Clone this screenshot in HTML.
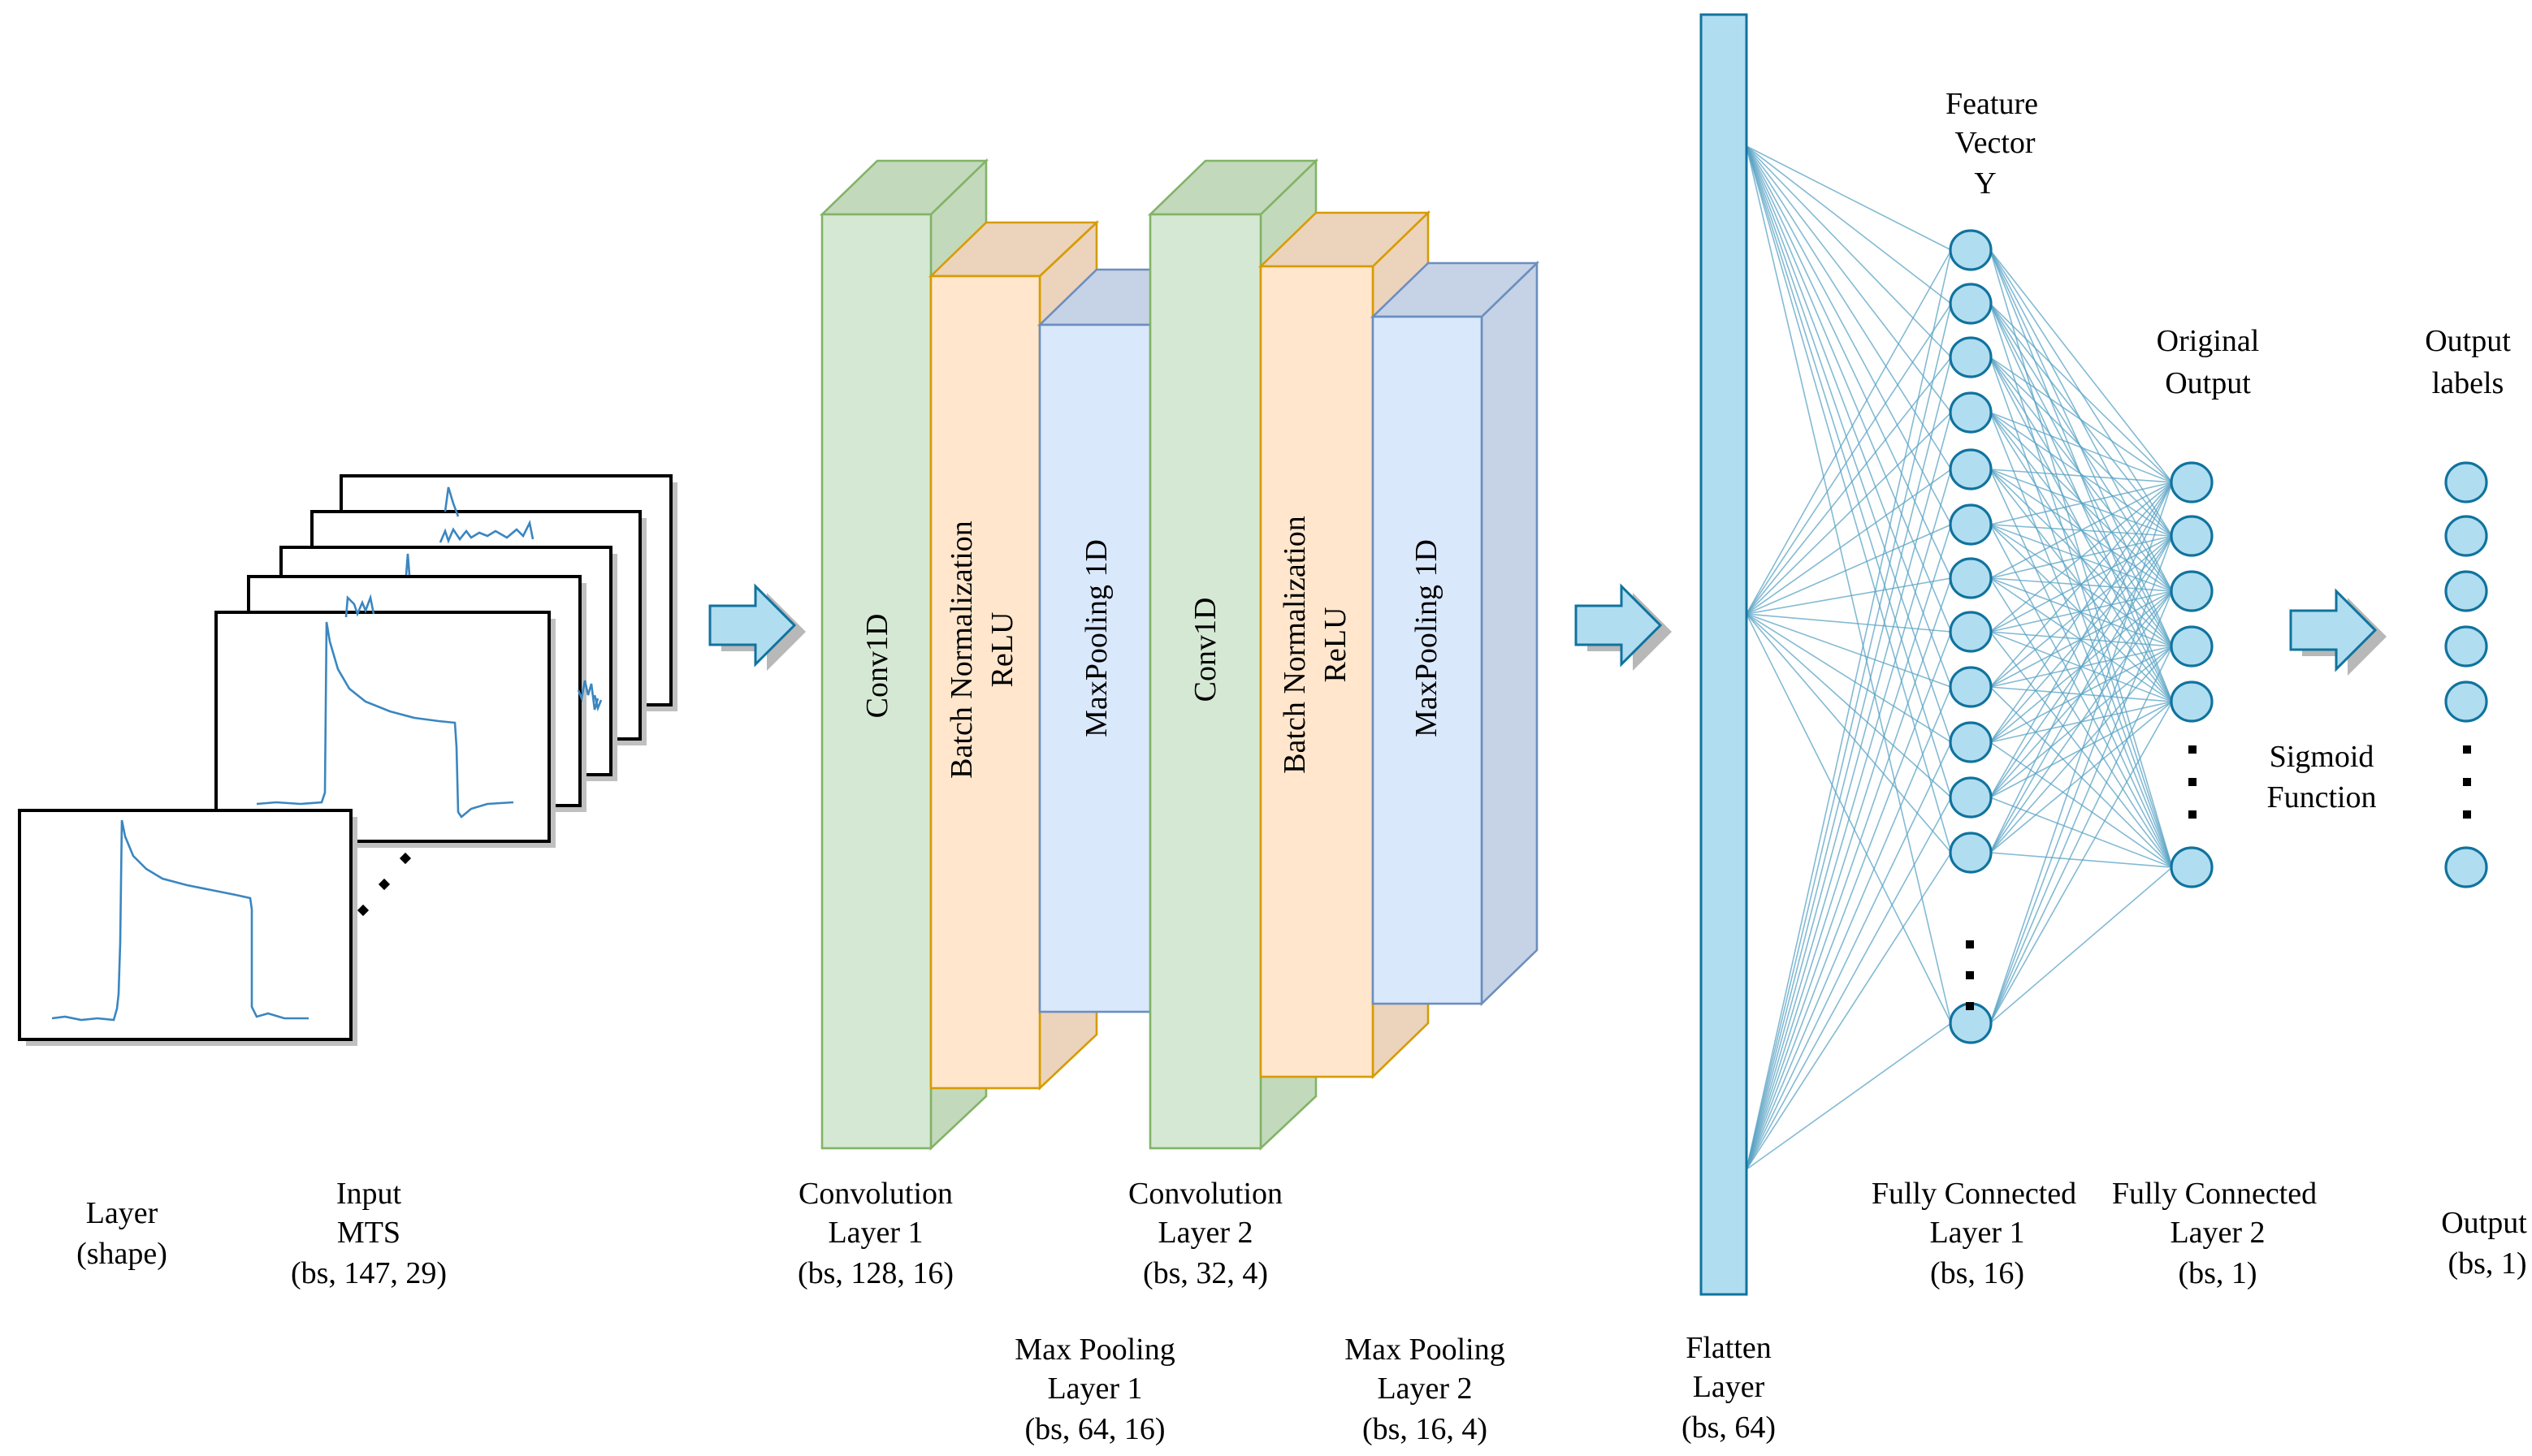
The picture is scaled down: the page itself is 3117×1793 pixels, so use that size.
<!DOCTYPE html>
<html><head><meta charset="utf-8">
<style>
html,body{margin:0;padding:0;background:#fff;}
svg{display:block;}
text{font-family:"Liberation Serif",serif;font-size:19px;fill:#000;}
</style></head>
<body>
<svg id="s" width="3117" height="1793" viewBox="0 0 1558.5 896.5" xmlns="http://www.w3.org/2000/svg">
<g id="lines" stroke="#5aa3c4" stroke-width="0.8" stroke-opacity="0.75" fill="none"></g>

<!-- input cards -->
<g stroke="#000" stroke-width="2" fill="#fff">
  <rect x="214" y="297" width="203" height="141" fill="#c0c0c0" stroke="none"/>
  <rect x="210" y="293" width="203" height="141"/>
  <rect x="196" y="319" width="202" height="140" fill="#c0c0c0" stroke="none"/>
  <rect x="192" y="315" width="202" height="140"/>
  <rect x="177" y="341" width="203" height="140" fill="#c0c0c0" stroke="none"/>
  <rect x="173" y="337" width="203" height="140"/>
  <rect x="157" y="359" width="204" height="141" fill="#c0c0c0" stroke="none"/>
  <rect x="153" y="355" width="204" height="141"/>
  <rect x="137" y="381" width="205" height="141" fill="#c0c0c0" stroke="none"/>
  <rect x="133" y="377" width="205" height="141"/>
  <rect x="16" y="503" width="204" height="141" fill="#c0c0c0" stroke="none"/>
  <rect x="12" y="499" width="204" height="141"/>
</g>
<g stroke="#3a86c0" stroke-width="1.3" fill="none">
  <polyline points="274,315 276,300 279,310 282,318"/>
  <polyline points="271,334 274,327 276,333 279,326 283,332 287,327 290,331 295,328 300,330 305,327 312,331 318,326 322,330 326,322 328,332"/>
  <polyline points="356,425 358,430 360,419 362,428 364,421 366,437 368,430"/>
  <polyline points="366,428 368,436 370,431"/>
  <polyline points="250,354 251,341 252,354"/>
  <polyline points="213,380 214,368 218,372 220,378 223,371 225,376 228,368 230,378"/>
  <polyline points="158,495 170,494 185,495 198,494 200,488 201,383 203,395 208,412 215,424 225,432 240,438 255,442 270,444 280,445 281,460 282,500 284,503 290,498 300,495 316,494"/>
  <polyline points="32,627 40,626 50,628 60,627 70,628 72,621 73,612 74,580 75,505 77,515 82,527 90,535 100,541 115,545 130,548 145,551 154,553 155,560 155,620 158,626 165,624 175,627 190,627"/>
</g>
<g fill="#000">
  <rect x="221" y="558" width="5" height="5" transform="rotate(45 223.5 560.5)"/>
  <rect x="234" y="542" width="5" height="5" transform="rotate(45 236.5 544.5)"/>
  <rect x="247" y="526" width="5" height="5" transform="rotate(45 249.5 528.5)"/>
</g>

<!-- block arrows -->
<defs>
<g id="arr">
  <path d="M4,6 L32,6 L32,-6 L56,18 L32,42 L32,30 L4,30 Z" fill="#b8b8b8" transform="translate(3,4)"/>
  <path d="M0,6 L28,6 L28,-6 L52,18 L28,42 L28,30 L0,30 Z" fill="#b1ddf0" stroke="#10739e" stroke-width="1.5"/>
</g>
</defs>
<use href="#arr" x="437" y="367"/>
<use href="#arr" x="970" y="367"/>
<use href="#arr" x="1410" y="370"/>

<!-- Conv blocks -->
<g stroke-width="1.3">
  <!-- Conv1 -->
  <polygon points="573,132 607,99 607,675 573,707" fill="#c3d9bc" stroke="#82b366"/>
  <polygon points="506,132 540,99 607,99 573,132" fill="#c3d9bc" stroke="#82b366"/>
  <rect x="506" y="132" width="67" height="575" fill="#d5e8d4" stroke="#82b366"/>
  <!-- BN1 -->
  <polygon points="640,170 675,137 675,637 640,670" fill="#ecd3bb" stroke="#d79b00"/>
  <polygon points="573,170 607,137 675,137 640,170" fill="#ecd3bb" stroke="#d79b00"/>
  <rect x="573" y="170" width="67" height="500" fill="#ffe6cc" stroke="#d79b00"/>
  <!-- MP1 -->
  <polygon points="708,200 742,166 742,590 708,623" fill="#c6d2e6" stroke="#6c8ebf"/>
  <polygon points="640,200 675,166 742,166 708,200" fill="#c6d2e6" stroke="#6c8ebf"/>
  <rect x="640" y="200" width="68" height="423" fill="#dae8fc" stroke="#6c8ebf"/>
  <!-- Conv2 -->
  <polygon points="776,132 810,99 810,675 776,707" fill="#c3d9bc" stroke="#82b366"/>
  <polygon points="708,132 742,99 810,99 776,132" fill="#c3d9bc" stroke="#82b366"/>
  <rect x="708" y="132" width="68" height="575" fill="#d5e8d4" stroke="#82b366"/>
  <!-- BN2 -->
  <polygon points="845,164 879,131 879,630 845,663" fill="#ecd3bb" stroke="#d79b00"/>
  <polygon points="776,164 810,131 879,131 845,164" fill="#ecd3bb" stroke="#d79b00"/>
  <rect x="776" y="164" width="69" height="499" fill="#ffe6cc" stroke="#d79b00"/>
  <!-- MP2 -->
  <polygon points="912,195 946,162 946,585 912,618" fill="#c6d2e6" stroke="#6c8ebf"/>
  <polygon points="845,195 879,162 946,162 912,195" fill="#c6d2e6" stroke="#6c8ebf"/>
  <rect x="845" y="195" width="67" height="423" fill="#dae8fc" stroke="#6c8ebf"/>
</g>
<g text-anchor="middle">
  <text transform="translate(546,410) rotate(-90)">Conv1D</text>
  <text transform="translate(598,400) rotate(-90)">Batch Normalization</text>
  <text transform="translate(623,400) rotate(-90)">ReLU</text>
  <text transform="translate(681,393) rotate(-90)">MaxPooling 1D</text>
  <text transform="translate(748,400) rotate(-90)">Conv1D</text>
  <text transform="translate(803,397) rotate(-90)">Batch Normalization</text>
  <text transform="translate(828,397) rotate(-90)">ReLU</text>
  <text transform="translate(884,393) rotate(-90)">MaxPooling 1D</text>
</g>

<!-- Flatten -->
<rect x="1047" y="9" width="28" height="788" fill="#b1ddf0" stroke="#10739e" stroke-width="1.5"/>

<g id="nodes" fill="#b1ddf0" stroke="#10739e" stroke-width="1.6"></g>
<g fill="#000">
  <rect x="1210" y="579" width="5" height="5"/><rect x="1210" y="598" width="5" height="5"/><rect x="1210" y="617" width="5" height="5"/>
  <rect x="1347" y="459" width="5" height="5"/><rect x="1347" y="479" width="5" height="5"/><rect x="1347" y="499" width="5" height="5"/>
  <rect x="1516" y="459" width="5" height="5"/><rect x="1516" y="479" width="5" height="5"/><rect x="1516" y="499" width="5" height="5"/>
</g>

<g text-anchor="middle">
  <text x="75" y="753">Layer</text><text x="75" y="778">(shape)</text>
  <text x="227" y="741">Input</text><text x="227" y="765">MTS</text><text x="227" y="790">(bs, 147, 29)</text>
  <text x="539" y="741">Convolution</text><text x="539" y="765">Layer 1</text><text x="539" y="790">(bs, 128, 16)</text>
  <text x="742" y="741">Convolution</text><text x="742" y="765">Layer 2</text><text x="742" y="790">(bs, 32, 4)</text>
  <text x="674" y="837">Max Pooling</text><text x="674" y="861">Layer 1</text><text x="674" y="886">(bs, 64, 16)</text>
  <text x="877" y="837">Max Pooling</text><text x="877" y="861">Layer 2</text><text x="877" y="886">(bs, 16, 4)</text>
  <text x="1064" y="836">Flatten</text><text x="1064" y="860">Layer</text><text x="1064" y="885">(bs, 64)</text>
  <text x="1215" y="741">Fully Connected</text><text x="1217" y="765">Layer 1</text><text x="1217" y="790">(bs, 16)</text>
  <text x="1363" y="741">Fully Connected</text><text x="1365" y="765">Layer 2</text><text x="1365" y="790">(bs, 1)</text>
  <text x="1529" y="759">Output</text><text x="1531" y="784">(bs, 1)</text>
  <text x="1226" y="70">Feature</text><text x="1228" y="94">Vector</text><text x="1222" y="119">Y</text>
  <text x="1359" y="216">Original</text><text x="1359" y="242">Output</text>
  <text x="1519" y="216">Output</text><text x="1519" y="242">labels</text>
  <text x="1429" y="472">Sigmoid</text><text x="1429" y="497">Function</text>
</g>
</svg>
<script>
var NS="http://www.w3.org/2000/svg";
var f1=[154,187,220,254,289,323,356,389,423,457,491,525,630];
var f2=[297,330,364,398,432,534];
var src=[90,378,720];
var L=document.getElementById("lines"),N=document.getElementById("nodes");
function ln(a,b,c,d){var l=document.createElementNS(NS,"line");l.setAttribute("x1",a);l.setAttribute("y1",b);l.setAttribute("x2",c);l.setAttribute("y2",d);L.appendChild(l);}
src.forEach(function(s){f1.forEach(function(y){ln(1075,s,1201,y);});});
f1.forEach(function(y){f2.forEach(function(z){ln(1225,y,1337,z);});});
function el(x,y){var e=document.createElementNS(NS,"ellipse");e.setAttribute("cx",x);e.setAttribute("cy",y);e.setAttribute("rx",12.5);e.setAttribute("ry",12);N.appendChild(e);}
f1.forEach(function(y){el(1213,y);});
f2.forEach(function(y){el(1349,y);el(1518,y);});
</script>
</body></html>
